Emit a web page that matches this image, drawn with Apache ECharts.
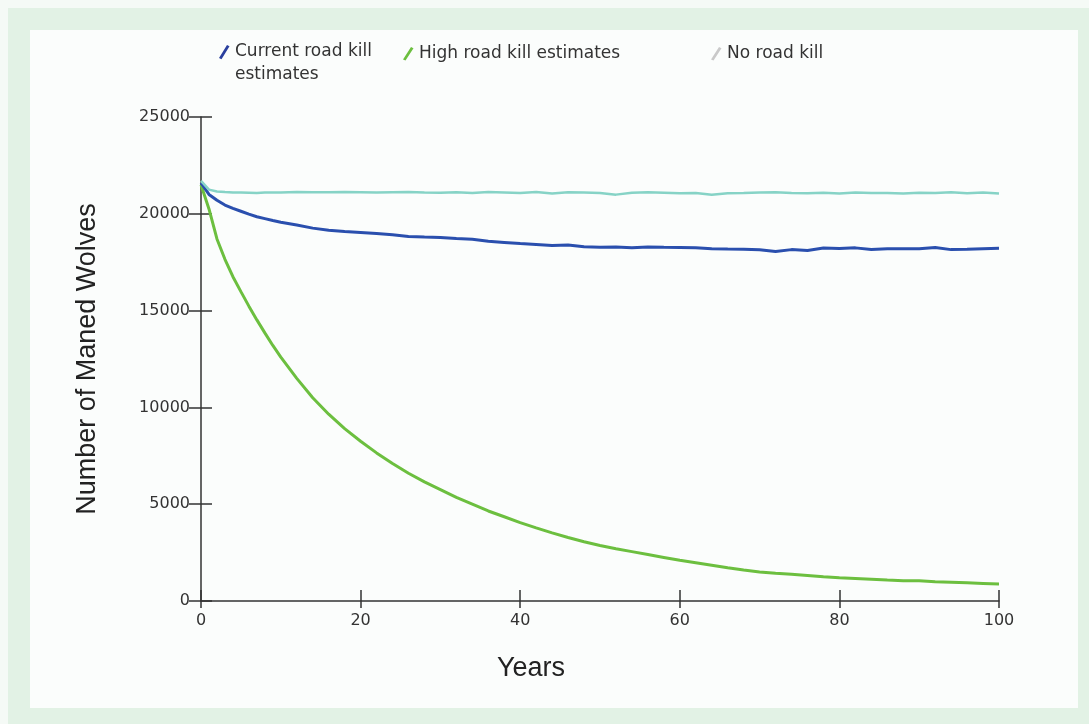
<!DOCTYPE html>
<html>
<head>
<meta charset="utf-8">
<script src="https://cdn.jsdelivr.net/npm/echarts@6/dist/echarts.min.js"></script>
<style>
  html, body { margin: 0; padding: 0; width: 1089px; height: 724px; background: #f5faf6; overflow: hidden; }
  #frame { position: absolute; left: 8px; top: 8px; width: 1081px; height: 716px; background: #e2f2e5; }
  #panel { position: absolute; left: 30px; top: 30px; width: 1048px; height: 678px; background: #fbfdfc; }
  #chart { position: absolute; left: 0; top: 0; width: 1089px; height: 724px; }
</style>
</head>
<body>
<div id="frame"></div>
<div id="panel"></div>
<div id="chart"></div>
<script>
// ---- data ----
const years = [0,1,2,3,4,5,6,7,8,9,10,12,14,16,18,20,22,24,26,28,30,32,34,36,38,40,42,44,46,48,50,52,54,56,58,60,62,64,66,68,70,72,74,76,78,80,82,84,86,88,90,92,94,96,98,100];

const currentRoadKill = [21600,21000,20700,20450,20280,20130,19980,19850,19750,19650,19560,19420,19260,19150,19080,19030,18980,18920,18830,18800,18780,18720,18680,18580,18520,18460,18410,18360,18390,18300,18270,18280,18250,18290,18270,18260,18250,18200,18180,18170,18140,18050,18150,18100,18230,18210,18240,18150,18200,18200,18200,18260,18150,18170,18200,18220];

const highRoadKill = [21500,20250,18700,17650,16750,15980,15230,14520,13850,13200,12600,11500,10500,9650,8900,8250,7650,7100,6600,6150,5750,5350,5000,4650,4350,4050,3780,3520,3280,3060,2870,2700,2550,2400,2250,2100,1980,1850,1720,1600,1500,1430,1380,1320,1250,1200,1160,1120,1080,1050,1040,1000,970,940,910,880];

const noRoadKill = [21700,21250,21150,21120,21100,21100,21090,21080,21100,21100,21100,21120,21110,21110,21120,21110,21100,21110,21120,21100,21090,21110,21080,21120,21100,21080,21120,21050,21110,21100,21080,20990,21090,21110,21090,21060,21080,20990,21060,21070,21100,21110,21080,21060,21090,21050,21100,21070,21080,21050,21090,21080,21110,21060,21100,21050];

const seriesNames = ['Current road kill estimates', 'High road kill estimates', 'No road kill'];
const yTicks = [0, 5000, 10000, 15000, 20000, 25000];
const xTicks = [0, 20, 40, 60, 80, 100];

const pairs = v => years.map((y, i) => [y, v[i]]);

const FONT = 'DejaVu Sans';
const tall = 'path://M0,0L0.01,0M12,46L11.99,46M1,18L9,5L11.5,6.2L3.5,19.2Z';
const short = 'path://M0,0L0.01,0M12,14L11.99,14M1,13L9,0.5L11.5,1.7L3.5,14Z';

const chart = echarts.init(document.getElementById('chart'), null, { renderer: 'canvas' });
chart.setOption({
  backgroundColor: 'transparent',
  animation: false,
  legend: [
    {
      left: 213, top: 35, itemWidth: 12, itemHeight: 46, itemGap: 0,
      data: [{ name: seriesNames[0], icon: tall, itemStyle: { color: '#2a3f9e', borderWidth: 0 } }],
      formatter: () => 'Current road kill\nestimates',
      textStyle: { fontFamily: FONT, fontSize: 17, color: '#333', lineHeight: 23 }
    },
    {
      left: 397, top: 40, itemWidth: 12, itemHeight: 14,
      data: [{ name: seriesNames[1], icon: short, itemStyle: { color: '#6cbf3f', borderWidth: 0 } }],
      textStyle: { fontFamily: FONT, fontSize: 17, color: '#333' }
    },
    {
      left: 705, top: 40, itemWidth: 12, itemHeight: 14,
      data: [{ name: seriesNames[2], icon: short, itemStyle: { color: '#c9c9c9', borderWidth: 0 } }],
      textStyle: { fontFamily: FONT, fontSize: 17, color: '#333' }
    }
  ],
  grid: { left: 201, right: 90, top: 117, bottom: 123, containLabel: false },
  xAxis: [
    {
      type: 'value', min: xTicks[0], max: xTicks[xTicks.length - 1], interval: 20,
      name: 'Years', nameLocation: 'middle', nameGap: 54,
      nameTextStyle: { fontFamily: 'Liberation Sans', fontSize: 27, color: '#222', padding: [0, 138, 0, 0] },
      axisLine: { show: true, lineStyle: { color: '#333', width: 1.5 } },
      axisTick: { show: true, length: 7, lineStyle: { color: '#333', width: 1.5 } },
      axisLabel: { margin: 12, fontFamily: FONT, fontSize: 16, color: '#333', formatter: v => String(v) },
      splitLine: { show: false }
    },
    {
      type: 'value', min: xTicks[0], max: xTicks[xTicks.length - 1], interval: 20, position: 'bottom',
      axisLine: { show: false },
      axisTick: { show: true, inside: true, length: 11, lineStyle: { color: '#333', width: 1.5 } },
      axisLabel: { show: false }, splitLine: { show: false }
    }
  ],
  yAxis: [
    {
      type: 'value', min: yTicks[0], max: yTicks[yTicks.length - 1], interval: 5000,
      name: 'Number of Maned Wolves', nameLocation: 'middle', nameGap: 100, nameRotate: 90,
      nameTextStyle: { fontFamily: 'Liberation Sans', fontSize: 27, color: '#222' },
      axisLine: { show: true, lineStyle: { color: '#333', width: 1.5 } },
      axisTick: { show: true, length: 12, lineStyle: { color: '#333', width: 1.5 } },
      axisLabel: { margin: 11, fontFamily: FONT, fontSize: 16, color: '#333', formatter: v => String(v) },
      splitLine: { show: false }
    },
    {
      type: 'value', min: yTicks[0], max: yTicks[yTicks.length - 1], interval: 5000, position: 'left',
      axisLine: { show: false },
      axisTick: { show: true, inside: true, length: 11, lineStyle: { color: '#333', width: 1.5 } },
      axisLabel: { show: false }, splitLine: { show: false }
    }
  ],
  series: [
    { name: seriesNames[1], type: 'line', data: pairs(highRoadKill), showSymbol: false, symbol: 'none',
      lineStyle: { color: '#6cbf3f', width: 3 }, itemStyle: { color: '#6cbf3f' }, z: 3 },
    { name: seriesNames[0], type: 'line', data: pairs(currentRoadKill), showSymbol: false, symbol: 'none',
      lineStyle: { color: '#2a4fae', width: 3 }, itemStyle: { color: '#2a4fae' }, z: 4 },
    { name: seriesNames[2], type: 'line', data: pairs(noRoadKill), showSymbol: false, symbol: 'none',
      lineStyle: { color: '#86d3c6', width: 2.5 }, itemStyle: { color: '#86d3c6' }, z: 5 }
  ]
});
</script>
</body>
</html>
